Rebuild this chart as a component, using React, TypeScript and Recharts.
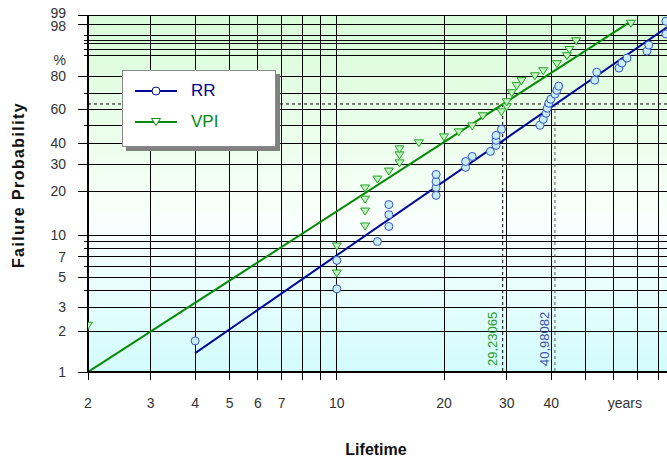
import {
  ComposedChart,
  XAxis,
  YAxis,
  CartesianGrid,
  Scatter,
  Line,
  ReferenceLine,
} from 'recharts';

// Weibull probability transform: y = ln(-ln(1 - F))
const wb = (p: number) => Math.log(-Math.log(1 - p / 100));
const fromWb = (v: number) => 100 * (1 - Math.exp(-Math.exp(v)));

// lifetime in years / failure probability in %
const rrLife = [4, 10, 10, 13, 14, 14, 14, 19, 19, 19, 19, 23, 23, 24, 27, 28, 28, 28, 29, 37.2, 38, 38.7, 39, 39.4, 39.9, 41, 41.5, 42, 53, 53.7, 62, 63.2, 65.3, 74.3, 75.2, 84, 84];
const rrProb = [1.7, 4.1, 6.6, 9.0, 11.5, 13.9, 16.3, 18.8, 21.2, 23.2, 25.8, 28.6, 31.1, 33.4, 35.8, 38.8, 41.5, 44.2, 47.7, 50.0, 53.6, 57.4, 60.5, 63.7, 66.2, 69.4, 71.8, 74.3, 77.8, 82.2, 84.3, 86.7, 88.9, 91.6, 93.6, 96.4, 98.4];

const vpiLife = [2, 10, 10, 12, 12, 12, 12, 13, 14, 15, 15, 15, 17, 20, 22, 24, 25.7, 29, 30, 30, 31, 32, 33, 36, 38, 41.5, 44.3, 45, 47, 67];
const vpiProb = [2.2, 5.3, 8.3, 11.5, 14.6, 17.6, 20.9, 23.9, 26.9, 30.3, 33.9, 36.8, 39.9, 43.1, 45.9, 49.4, 55.5, 58.0, 61.2, 64.3, 70.0, 74.3, 77.2, 80.0, 82.7, 86.2, 89.7, 92.0, 94.7, 98.1];

// fitted lines (end points)
const rrFitLife = [4, 84.6];
const rrFitProb = [1.38, 97.6];
const vpiFitLife = [2, 66.5];
const vpiFitProb = [1.0, 98.3];

// characteristic lifetimes (63.2 %)
const vpiEta = 29.23065;
const rrEta = 40.98082;
const etaProb = 63.212;

const xTicks = [2, 3, 4, 5, 6, 7, 8, 9, 10, 20, 30, 40, 50, 60, 70, 80];
const xLabels = [2, 3, 4, 5, 6, 7, 10, 20, 30, 40];
const yGrid = [1, 2, 3, 4, 5, 6, 7, 8, 9, 10, 20, 30, 40, 50, 60, 70, 80, 90, 92, 94, 95, 96, 98, 99];
const yLabels = [1, 2, 3, 5, 7, 10, 20, 30, 40, 60, 80, 98, 99];

const toPts = (life: number[], prob: number[]) =>
  life.map((t, i) => ({ t, y: wb(prob[i]) }));

const rrPts = toPts(rrLife, rrProb);
const vpiPts = toPts(vpiLife, vpiProb);
const rrFit = toPts(rrFitLife, rrFitProb);
const vpiFit = toPts(vpiFitLife, vpiFitProb);

const W = 667;
const H = 461;
const LEFT = 88;
const TOP = 15;
const BOTTOM = 372;
const FONT = '"Liberation Sans", Arial, sans-serif';

const RR_LINE = '#000a96';
const RR_MARK = '#3550c8';
const VPI_LINE = '#0a8a0a';
const VPI_MARK = '#22a422';

const XTick = ({ x, payload }: any) => {
  const v = payload.value;
  return (
    <g>
      <line x1={x} x2={x} y1={BOTTOM} y2={BOTTOM + 8} stroke="#000" shapeRendering="crispEdges" />
      {xLabels.includes(v) && (
        <text x={x} y={408} textAnchor="middle" fontSize={14} fontFamily={FONT} fill="#333">
          {v}
        </text>
      )}
      {v === 60 && (
        <text x={x + 11} y={408} textAnchor="middle" fontSize={14} fontFamily={FONT} fill="#333">
          years
        </text>
      )}
    </g>
  );
};

const YTick = ({ y, payload }: any) => {
  const p = Math.round(fromWb(payload.value));
  const labelled = yLabels.includes(p);
  const dy = p === 99 ? 3 : p === 98 ? 6 : 5;
  return (
    <g>
      <line x1={LEFT - (labelled ? 10 : 4)} x2={LEFT} y1={y} y2={y} stroke="#000" shapeRendering="crispEdges" />
      {labelled && (
        <text x={66} y={y + dy} textAnchor="end" fontSize={14} fontFamily={FONT} fill="#333">
          {p}
        </text>
      )}
      {p === 90 && (
        <text x={66} y={y + 10} textAnchor="end" fontSize={14} fontFamily={FONT} fill="#333">
          %
        </text>
      )}
    </g>
  );
};

const etaLabel = (text: string, color: string) => (props: any) => {
  const x = props.viewBox.x - 6;
  const y = 366;
  return (
    <text
      x={x}
      y={y}
      transform={`rotate(-90 ${x} ${y})`}
      fontSize={13}
      fontFamily={FONT}
      fill={color}
    >
      {text}
    </text>
  );
};

const Circle = ({ cx, cy }: any) => (
  <circle cx={cx} cy={cy} r={4} fill="#c8eef2" stroke={RR_MARK} strokeWidth={1} />
);

const TriDown = ({ cx, cy }: any) => (
  <path
    d={`M${cx - 4.5},${cy - 3.5} L${cx + 4.5},${cy - 3.5} L${cx},${cy + 3.5} Z`}
    fill="#c6f0c6"
    stroke={VPI_MARK}
    strokeWidth={1}
  />
);

function LegendBox() {
  const row = (top: number, label: string, line: string, text: string, tri: boolean) => (
    <div style={{ position: 'absolute', left: 10, top, height: 20, display: 'flex', alignItems: 'center' }}>
      <svg width={46} height={14}>
        <line x1={2} x2={44} y1={7} y2={7} stroke={line} strokeWidth={2} />
        {tri ? (
          <path d="M18.5,3.5 L27.5,3.5 L23,10.5 Z" fill="#fff" stroke={line} />
        ) : (
          <circle cx={23} cy={7} r={4} fill="#fff" stroke={line} />
        )}
      </svg>
      <span style={{ marginLeft: 12, fontSize: 17, fontFamily: FONT, color: text }}>{label}</span>
    </div>
  );
  return (
    <div
      style={{
        position: 'absolute',
        left: 122,
        top: 70,
        width: 152,
        height: 75,
        background: '#fff',
        border: '1px solid #8a8a8a',
        boxShadow: '4px 4px 0 #808080',
      }}
    >
      {row(10, 'RR', RR_LINE, '#00008c', false)}
      {row(41, 'VPI', VPI_LINE, '#0a8a0a', true)}
    </div>
  );
}

export default function App() {
  return (
    <div
      style={{
        position: 'absolute',
        left: 0,
        top: 0,
        width: W,
        height: H,
        overflow: 'hidden',
        background: '#fff',
      }}
    >
      <ComposedChart
        width={W}
        height={H}
        margin={{ top: TOP, right: 0, bottom: 0, left: 0 }}
      >
        <defs>
          <linearGradient id="bgGrad" x1="0" y1="0" x2="0" y2="1">
            <stop offset="0%" stopColor="#d8fcd8" />
            <stop offset="45%" stopColor="#f2fff2" />
            <stop offset="58%" stopColor="#fafffe" />
            <stop offset="100%" stopColor="#d2fcfc" />
          </linearGradient>
        </defs>
        <CartesianGrid
          stroke="#000"
          strokeWidth={1}
          fill="url(#bgGrad)"
          fillOpacity={1}
          shapeRendering="crispEdges"
        />
        <XAxis
          type="number"
          dataKey="t"
          scale="log"
          domain={[2, 84.6]}
          allowDataOverflow
          ticks={xTicks}
          tick={<XTick />}
          tickLine={false}
          axisLine={{ stroke: '#000', strokeWidth: 2 }}
          height={H - BOTTOM}
          interval={0}
          label={() => (
            <text x={376} y={455} textAnchor="middle" fontSize={16} fontWeight="bold" fontFamily={FONT} fill="#111">
              Lifetime
            </text>
          )}
        />
        <YAxis
          type="number"
          dataKey="y"
          domain={[wb(1), wb(99)]}
          allowDataOverflow
          ticks={yGrid.map(wb)}
          tick={<YTick />}
          tickLine={false}
          axisLine={{ stroke: '#000', strokeWidth: 2 }}
          width={LEFT}
          interval={0}
          label={() => (
            <text
              x={24}
              y={185}
              transform="rotate(-90 24 185)"
              textAnchor="middle"
              fontSize={16}
              fontWeight="bold"
              fontFamily={FONT}
              letterSpacing={1.4}
              fill="#111"
            >
              Failure Probability
            </text>
          )}
        />
        <ReferenceLine y={wb(etaProb)} stroke="#000" strokeDasharray="3 3" />
        <ReferenceLine
          segment={[
            { x: vpiEta, y: wb(etaProb) },
            { x: vpiEta, y: wb(1) },
          ]}
          stroke="#000"
          strokeDasharray="3 3"
          label={etaLabel('29,23065', '#2a9a2a')}
        />
        <ReferenceLine
          segment={[
            { x: rrEta, y: wb(etaProb) },
            { x: rrEta, y: wb(1) },
          ]}
          stroke="#555"
          strokeDasharray="3 3"
          label={etaLabel('40,98082', '#4050a8')}
        />
        <Line data={vpiFit} dataKey="y" stroke={VPI_LINE} strokeWidth={2} dot={false} isAnimationActive={false} />
        <Line data={rrFit} dataKey="y" stroke={RR_LINE} strokeWidth={2} dot={false} isAnimationActive={false} />
        <Scatter data={vpiPts} dataKey="y" shape={<TriDown />} isAnimationActive={false} />
        <Scatter data={rrPts} dataKey="y" shape={<Circle />} isAnimationActive={false} />
      </ComposedChart>
      <LegendBox />
    </div>
  );
}
